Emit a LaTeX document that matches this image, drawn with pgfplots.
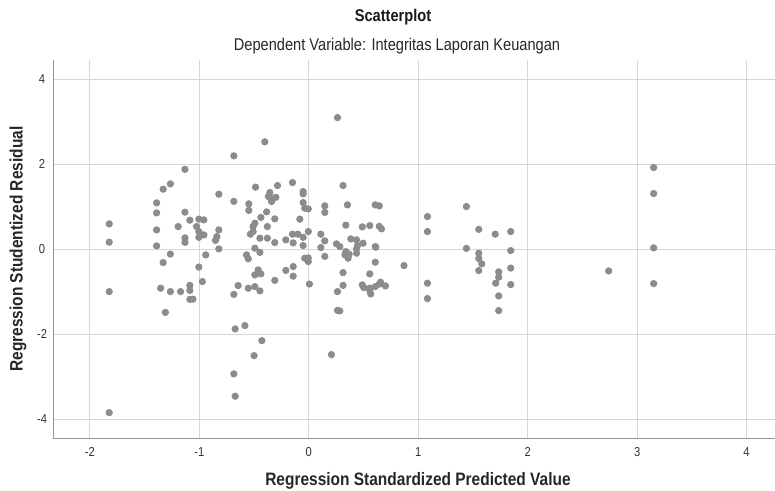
\documentclass[border=0pt]{standalone}
\usepackage{fontspec}
\setmainfont{Liberation Sans}[FakeStretch=0.86]
\usepackage{pgfplots}
\pgfplotsset{compat=1.18}
\usetikzlibrary{calc}
\definecolor{dotgray}{HTML}{8C8C8C}
\definecolor{gridgray}{HTML}{D6D6D6}
\definecolor{axgray}{HTML}{949494}
\definecolor{txtgray}{HTML}{333333}

\begin{document}
\begin{tikzpicture}
\begin{axis}[
  name=ax,
  scale only axis,
  width=360.8pt, height=189.2pt,
  xmin=-2.334, xmax=4.26,
  ymin=-4.45, ymax=4.45,
  axis x line=bottom,
  axis y line=left,
  axis line style={axgray, line width=0.6pt, -},
  xtick={-2,-1,0,1,2,3,4},
  xticklabels={-2,-1,0,1,2,3,4},
  ytick={-4,-2,0,2,4},
  yticklabels={-4,-2,0,2,4},
  major tick length=0pt,
  tick style={draw=none},
  xticklabel style={font=\fontsize{6.5}{7}\selectfont, text=txtgray, anchor=center, yshift=-6.85pt},
  yticklabel style={font=\fontsize{6.5}{7}\selectfont, text=txtgray, anchor=center, xshift=-5.7pt},
  grid=major,
  grid style={gridgray, line width=0.5pt},
  clip=false,
]
\addplot[only marks, mark=*, mark size=1.6pt, color=dotgray, mark options={fill=dotgray, draw=dotgray}] coordinates {
(-1.824,0.595) (-1.824,0.165) (-1.824,-0.998) (-1.824,-3.845)
(-1.391,1.089) (-1.391,0.854) (-1.391,0.454) (-1.391,0.078)
(-1.354,-0.918)
(-1.331,1.412) (-1.331,-0.315)
(-1.311,-1.487)
(-1.265,1.536) (-1.265,-0.115) (-1.265,-0.998)
(-1.194,0.532)
(-1.172,-0.998)
(-1.132,1.878) (-1.132,0.871) (-1.132,0.266) (-1.132,0.160)
(-1.087,0.682) (-1.087,-0.852) (-1.087,-0.969) (-1.087,-1.181)
(-1.059,-1.176)
(-1.005,0.706) (-0.959,0.689) (-1.026,0.532) (-1.005,0.414) (-0.980,0.336) (-0.959,0.336) (-1.005,0.278)
(-1.005,-0.421)
(-0.973,-0.762)
(-0.942,-0.134)
(-0.822,0.454) (-0.840,0.296) (-0.853,0.207) (-0.822,0.007)
(-0.822,1.294)
(-0.685,2.195) (-0.685,1.125) (-0.685,-1.064) (-0.685,-2.934)
(-0.673,-1.875) (-0.673,-3.459)
(-0.646,-0.856)
(-0.584,-1.798)
(-0.569,-0.134)
(-0.553,-0.228) (-0.553,-0.918)
(-0.548,1.066) (-0.548,0.913)
(-0.534,0.353)
(-0.509,0.532) (-0.509,0.414)
(-0.493,0.612) (-0.493,0.024) (-0.493,-0.605) (-0.493,-0.880)
(-0.487,1.459)
(-0.500,-2.504)
(-0.447,0.259) (-0.447,-0.075) (-0.447,-0.981) (-0.438,-0.581)
(-0.463,-0.487)
(-0.438,0.748)
(-0.429,-2.151)
(-0.402,2.525)
(-0.386,0.878)
(-0.379,0.532) (-0.379,0.259)
(-0.356,1.332) (-0.370,1.238) (-0.301,1.219) (-0.341,1.120) (-0.347,1.195)
(-0.311,0.713) (-0.311,0.155) (-0.311,-0.734)
(-0.286,1.496)
(-0.210,0.219) (-0.210,-0.499)
(-0.149,1.567) (-0.149,0.353)
(-0.143,0.148) (-0.143,-0.409) (-0.143,-0.635)
(-0.100,0.353)
(-0.082,0.706)
(-0.052,1.355) (-0.052,1.301) (-0.052,1.096) (-0.052,0.278) (-0.052,0.085)
(-0.037,0.965) (-0.037,-0.212)
(-0.005,0.948) (-0.005,0.414) (-0.005,-0.205) (-0.005,-0.292) (0.005,-0.821)
(0.110,0.353) (0.110,0.038)
(0.146,1.019) (0.146,0.866) (0.146,0.195) (0.146,-0.169)
(0.207,-2.480)
(0.253,0.125)
(0.262,3.096) (0.262,-0.998) (0.262,-1.440)
(0.283,0.061) (0.283,-1.452)
(0.313,1.496) (0.313,-0.551) (0.313,-0.852)
(0.338,0.565) (0.338,-0.056) (0.330,-0.134)
(0.353,1.042)
(0.359,-0.212)
(0.368,-0.118)
(0.384,0.242)
(0.436,0.219) (0.445,0.085) (0.436,0.007) (0.436,-0.094) (0.496,0.141)
(0.489,0.525) (0.489,-0.840)
(0.502,-0.904)
(0.557,0.555) (0.557,-0.581) (0.557,-0.918) (0.557,-0.969) (0.566,-1.052)
(0.607,1.042) (0.607,0.061) (0.612,0.047) (0.607,-0.306) (0.607,-0.880)
(0.644,1.019) (0.644,0.536) (0.644,-0.821)
(0.655,-0.776)
(0.664,0.478)
(0.700,-0.864)
(0.870,-0.386)
(1.084,0.767) (1.084,0.414) (1.084,-0.800) (1.084,-1.162)
(1.440,1.002) (1.440,0.019)
(1.553,0.466) (1.553,-0.094) (1.553,-0.221) (1.553,-0.504)
(1.580,-0.346)
(1.703,0.353)
(1.708,-0.800)
(1.735,-0.534) (1.735,-0.659) (1.735,-1.099) (1.735,-1.445)
(1.845,0.414) (1.845,-0.033) (1.845,-0.445) (1.845,-0.833)
(2.740,-0.511)
(3.151,1.920) (3.151,1.308) (3.151,0.031) (3.151,-0.809)
};
\end{axis}
% titles and axis labels
\node[font=\bfseries\fontsize{8.5}{10}\selectfont, text=black!90] at ($(ax.north west)+(169.8pt,21.5pt)$) {Scatterplot};
\node[font=\fontsize{8.5}{10}\selectfont, text=black!85] at ($(ax.north west)+(171.8pt,6.8pt)$) {Dependent Variable: Integritas Laporan Keuangan};
\node[font=\bfseries\fontsize{9}{10}\selectfont, text=black!85] at ($(ax.south west)+(182.3pt,-21.35pt)$) {Regression Standardized Predicted Value};
\node[font=\bfseries\fontsize{9}{10}\selectfont, text=black!85, rotate=90] at ($(ax.south west)+(-17.7pt,94.65pt)$) {Regression Studentized Residual};
\pgfresetboundingbox
\useasboundingbox ($(ax.south west)+(-26.7pt,-25.85pt)$) rectangle ($(ax.north east)+(0pt,30pt)$);
\end{tikzpicture}
\end{document}
